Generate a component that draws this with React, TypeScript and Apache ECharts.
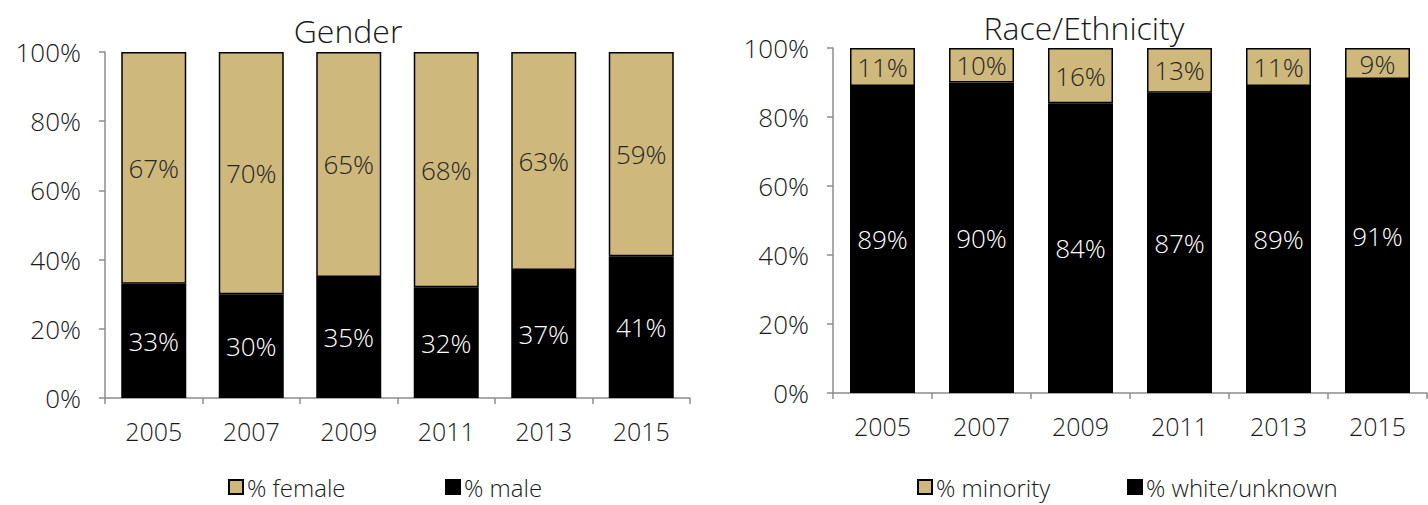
import React, { useEffect, useRef } from "react";
import * as echarts from "echarts";

const years = ["2005", "2007", "2009", "2011", "2013", "2015"];
const female = [67, 70, 65, 68, 63, 59];
const male = [33, 30, 35, 32, 37, 41];
const minority = [11, 10, 16, 13, 11, 9];
const whiteUnknown = [89, 90, 84, 87, 89, 91];

const GOLD = "#CFB87C";
const FONT = "Open Sans";
const AXIS = "#8c8c8c";
const TXT = "#1a1a1a";

function axisPair(gridIndex: number) {
  const x = {
    type: "category",
    gridIndex,
    data: years,
    axisLine: { lineStyle: { color: AXIS, width: 1.5 } },
    axisTick: { show: true, length: 6, lineStyle: { color: AXIS, width: 1.5 } },
    axisLabel: { color: TXT, fontSize: 25, fontFamily: FONT, fontWeight: 300, margin: 20 },
  };
  const y = {
    type: "value",
    gridIndex,
    min: 0,
    max: 100,
    interval: 20,
    splitLine: { show: false },
    axisLine: { show: true, lineStyle: { color: AXIS, width: 1.5 } },
    axisTick: { show: true, length: 6, lineStyle: { color: AXIS, width: 1.5 } },
    axisLabel: {
      color: TXT,
      fontSize: 26,
      fontFamily: FONT,
      fontWeight: 300,
      margin: 24,
      formatter: (v: number) => v + "%",
    },
  };
  return { x, y };
}

function barSeries(name: string, data: number[], idx: number, stack: string, gold: boolean) {
  return {
    name,
    type: "bar",
    xAxisIndex: idx,
    yAxisIndex: idx,
    stack,
    data,
    barWidth: 65,
    itemStyle: { color: gold ? GOLD : "#000", borderColor: "#000", borderWidth: 1.5 },
    label: {
      show: true,
      position: "inside",
      color: gold ? "#262626" : "#ffffff",
      fontSize: 26,
      fontFamily: FONT,
      fontWeight: 300,
      formatter: (p: any) => p.value + "%",
    },
  };
}

function legendItem(name: string, left: number) {
  return {
    data: [name],
    left,
    top: 475,
    padding: 0,
    itemWidth: 14,
    itemHeight: 14,
    itemGap: 6,
    icon: "rect",
    textStyle: {
      fontSize: 24,
      lineHeight: 24,
      fontFamily: FONT,
      fontWeight: 300,
      color: TXT,
      padding: [0, 0, 0, -1],
    },
    selectedMode: false,
  };
}

export default function App() {
  const ref = useRef<HTMLDivElement>(null);
  useEffect(() => {
    if (!ref.current) return;
    const chart = echarts.init(ref.current, undefined, { renderer: "svg" });
    const a0 = axisPair(0);
    const a1 = axisPair(1);
    chart.setOption({
      animation: false,
      backgroundColor: "#ffffff",
      title: [
        {
          text: "Gender",
          left: 348,
          top: 12,
          padding: 0,
          textAlign: "center",
          textStyle: { fontSize: 32, lineHeight: 36, fontFamily: FONT, fontWeight: 300, color: TXT },
        },
        {
          text: "Race/Ethnicity",
          left: 1084,
          top: 9,
          padding: 0,
          textAlign: "center",
          textStyle: { fontSize: 32, lineHeight: 36, fontFamily: FONT, fontWeight: 300, color: TXT },
        },
      ],
      legend: [
        legendItem("% female", 228),
        legendItem("% male", 445),
        legendItem("% minority", 917),
        legendItem("% white/unknown", 1127),
      ],
      grid: [
        { left: 105, top: 52, width: 585, height: 346 },
        { left: 833, top: 48, width: 594, height: 345 },
      ],
      xAxis: [a0.x, a1.x],
      yAxis: [a0.y, a1.y],
      series: [
        barSeries("% male", male, 0, "g", false),
        barSeries("% female", female, 0, "g", true),
        barSeries("% white/unknown", whiteUnknown, 1, "r", false),
        barSeries("% minority", minority, 1, "r", true),
      ],
    });
    return () => chart.dispose();
  }, []);
  return (
    <div
      ref={ref}
      style={{ position: "fixed", left: 0, top: 0, width: 1428, height: 505, background: "#fff" }}
    />
  );
}
